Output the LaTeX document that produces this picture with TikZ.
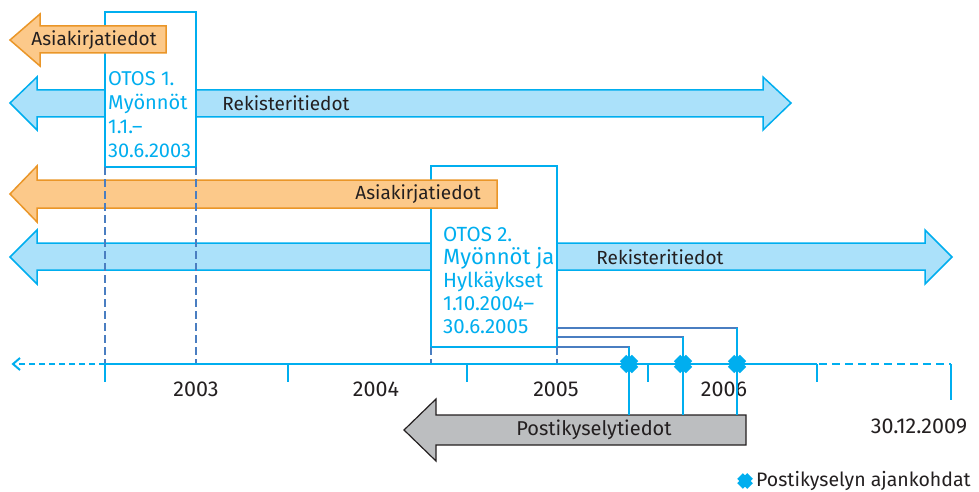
\documentclass[tikz,border=0pt]{standalone}
\usepackage{fontspec}
\setmainfont{Fira Sans}
\usepackage{tikz}

\definecolor{lineblue}{RGB}{0,174,239}
\definecolor{lightblue}{RGB}{171,225,250}
\definecolor{orangeline}{RGB}{234,150,40}
\definecolor{orangefill}{RGB}{252,201,138}
\definecolor{darkblue}{RGB}{74,126,193}
\definecolor{grayfill}{RGB}{188,190,192}
\definecolor{darktext}{RGB}{35,31,32}

\begin{document}
\begin{tikzpicture}[x=1pt, y=-1pt,
    bluearrow/.style={draw=lineblue, fill=lightblue, line width=1.5pt},
    orangearrow/.style={draw=orangeline, fill=orangefill, line width=1.5pt},
    grayarrow/.style={draw=darktext, fill=grayfill, line width=1.2pt},
    otosbox/.style={draw=lineblue, fill=white, line width=1.5pt},
    periodline/.style={darkblue, line width=1.5pt, dash pattern=on 8pt off 4pt},
    timeline/.style={lineblue, line width=2pt},
    kyselyline/.style={darkblue, line width=1.5pt},
    kyselydrop/.style={lineblue, line width=1.5pt},
    kyselymark/.style={lineblue, line width=9pt},
    labeltext/.style={text=darktext, font=\fontsize{19}{23}\selectfont, inner sep=0pt},
    yeartext/.style={labeltext, font=\fontsize{21.5}{24}\selectfont},
    otostext/.style={text=lineblue, font=\fontsize{20}{24}\selectfont, align=left, inner sep=0pt}
  ]
  \useasboundingbox (0,0) rectangle (979,492);

  % Upper arrows, OTOS 1
  \filldraw[bluearrow] (10,103) -- (37,77) -- (37,90) -- (763,90) -- (763,77) -- (791,103)
    -- (763,130) -- (763,117) -- (37,117) -- (37,130) -- cycle;
  \node[labeltext] (rekisteri1) at (286,103) {Rekisteritiedot};
  \filldraw[otosbox] (105,12) rectangle (196,167);
  \node[otostext, anchor=north west] (otos1) at (108,71) {OTOS 1.\\Myönnöt\\1.1.–\\30.6.2003};
  \filldraw[orangearrow] (10,40) -- (40,14) -- (40,26) -- (166,26) -- (166,53) -- (40,53)
    -- (40,66) -- cycle;
  \node[labeltext] (asiakirja1) at (94,40) {Asiakirjatiedot};

  % Lower arrows, OTOS 2
  \filldraw[bluearrow] (10,257) -- (37,230) -- (37,243) -- (925,243) -- (925,230) -- (952,257)
    -- (925,284) -- (925,270) -- (37,270) -- (37,284) -- cycle;
  \node[labeltext] (rekisteri2) at (660,257) {Rekisteritiedot};
  \filldraw[otosbox] (431,166) rectangle (557,347);
  \node[otostext, anchor=north west, font=\fontsize{20.5}{23}\selectfont] (otos2) at (443,227)
    {OTOS 2.\\{\fontsize{22}{23}\selectfont Myönnöt ja}\\Hylkäykset\\1.10.2004–\\30.6.2005};
  \filldraw[orangearrow] (10,194) -- (37,166) -- (37,180) -- (497,180) -- (497,208) -- (37,208)
    -- (37,222) -- cycle;
  \node[labeltext] (asiakirja2) at (418,194) {Asiakirjatiedot};

  % Periods down to the time axis
  \draw[periodline] (105,167) -- (105,364);
  \draw[periodline] (196,167) -- (196,364);
  \draw[periodline] (431,347) -- (431,364);
  \draw[periodline] (557,347) -- (557,364);

  % Time axis
  \draw[timeline, dash pattern=on 6pt off 4pt] (105,364) -- (14,364);
  \draw[timeline] (20,358) -- (13,364) -- (20,370);
  \draw[timeline] (105,364) -- (817,364);
  \draw[timeline, dash pattern=on 8pt off 5pt] (819,364) -- (951,364);
  \draw[timeline] (951,364) -- (951,400);
  \foreach \x in {105,288,467,648,817}
    \draw[timeline] (\x,364) -- (\x,382);
  \node[yeartext] (v2003) at (196,389) {2003};
  \node[yeartext] (v2004) at (376,389) {2004};
  \node[yeartext] (v2005) at (556,389) {2005};
  \node[yeartext] (v2006) at (724,389) {2006};
  \node[yeartext] (v2009) at (919,426) {30.12.2009};

  % Postal survey
  \filldraw[grayarrow] (404,430) -- (436,399) -- (436,415) -- (746,415) -- (746,445) -- (436,445)
    -- (436,461) -- cycle;
  \node[labeltext, font=\fontsize{20}{23}\selectfont] (posti) at (594,430) {Postikyselytiedot};
  \node[inner sep=0pt] (k1) at (629,364) {};
  \node[inner sep=0pt] (k2) at (683,364) {};
  \node[inner sep=0pt] (k3) at (737,364) {};
  \draw[kyselyline] (557,328) -| (k3.center);
  \draw[kyselyline] (557,337) -| (k2.center);
  \draw[kyselyline] (557,347) -| (k1.center);
  \draw[kyselydrop] (737,328) -- (k3.center) -- (737,415);
  \draw[kyselydrop] (683,337) -- (k2.center) -- (683,415);
  \draw[kyselydrop] (629,347) -- (k1.center) -- (629,415);
  \draw[kyselymark] (k1.center) +(-6,-6) -- +(6,6) +(-6,6) -- +(6,-6);
  \draw[kyselymark] (k2.center) +(-6,-6) -- +(6,6) +(-6,6) -- +(6,-6);
  \draw[kyselymark] (k3.center) +(-6,-6) -- +(6,6) +(-6,6) -- +(6,-6);

  % Legend
  \node[inner sep=0pt] (merkki) at (745,481) {};
  \draw[kyselymark, line width=8pt] (merkki.center) +(-5,-5) -- +(5,5) +(-5,5) -- +(5,-5);
  \node[labeltext, anchor=west, font=\fontsize{19.5}{23}\selectfont] (selite) at (756,481) {Postikyselyn ajankohdat};
\end{tikzpicture}
\end{document}
